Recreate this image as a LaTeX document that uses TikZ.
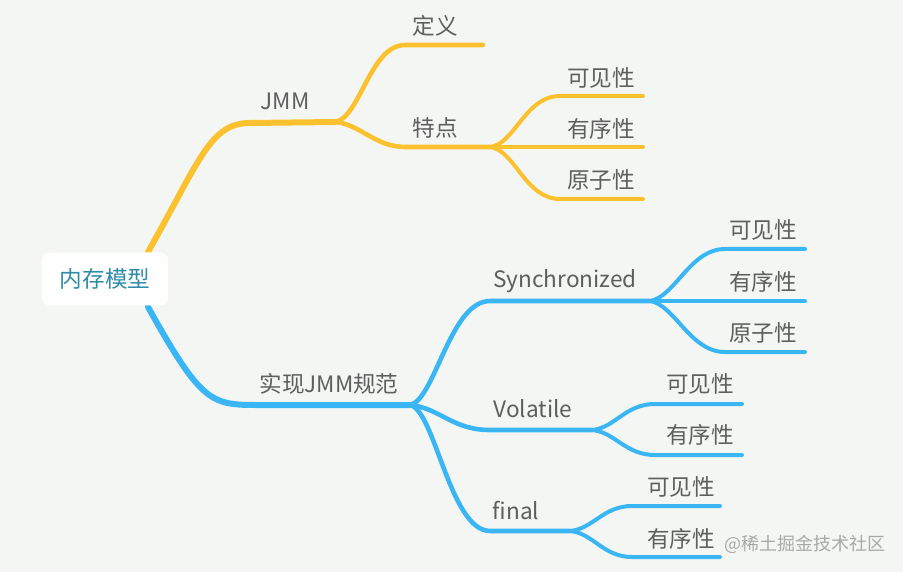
\documentclass[tikz,border=0pt]{standalone}
\usepackage{fontspec}
\newfontfamily\cjk{Noto Sans CJK SC}
\definecolor{bgc}{HTML}{F4F6F4}
\definecolor{ylw}{HTML}{FCC12E}
\definecolor{blu}{HTML}{3AB6F4}
\definecolor{txt}{HTML}{5E5E5E}
\definecolor{roottxt}{HTML}{2E8CA8}
\definecolor{wm}{HTML}{A8A8A8}
\tikzset{
  lbl/.style={font=\cjk\fontsize{22.6}{22.6}\selectfont, text=txt, inner sep=0pt, anchor=center},
  lvA/.style={line width=6pt, line cap=round},
  lvB/.style={line width=4.6pt, line cap=round},
  lvC/.style={line width=4pt, line cap=round},
}
\begin{document}
\begin{tikzpicture}[x=1pt,y=-1pt]
\fill[bgc] (0,0) rectangle (903,572);
\useasboundingbox (0,0) rectangle (903,572);

% coordinates
\coordinate (rt) at (148,252);
\coordinate (rb) at (148,307);
\coordinate (jmmS) at (250,123);
\coordinate (jmm) at (335,122);
\coordinate (dyS) at (405,45);
\coordinate (dyE) at (483,45);
\coordinate (tdS) at (405,147);
\coordinate (td) at (490,147);
\coordinate (y1S) at (560,96);
\coordinate (y1E) at (643,96);
\coordinate (y2E) at (643,147);
\coordinate (y3S) at (560,199);
\coordinate (y3E) at (643,199);

\coordinate (impS) at (255,405);
\coordinate (imp) at (410,405);
\coordinate (syS) at (490,301);
\coordinate (sy) at (650,301);
\coordinate (s1S) at (725,249);
\coordinate (s1E) at (805,249);
\coordinate (s2E) at (805,301);
\coordinate (s3S) at (725,352);
\coordinate (s3E) at (805,352);
\coordinate (voS) at (490,430);
\coordinate (vo) at (592,430);
\coordinate (v1S) at (655,404);
\coordinate (v1E) at (742,404);
\coordinate (v2S) at (655,455);
\coordinate (v2E) at (742,455);
\coordinate (fiS) at (490,531);
\coordinate (fi) at (570,531);
\coordinate (f1S) at (632,506);
\coordinate (f1E) at (720,506);
\coordinate (f2S) at (632,557);
\coordinate (f2E) at (720,557);

% yellow branch
\draw[ylw, lvA] (rt) .. controls (200,160) and (210,123) .. (jmmS) -- (jmm);
\draw[ylw, lvB] (jmm) .. controls (360,118) and (370,45) .. (dyS) -- (dyE);
\draw[ylw, lvB] (jmm) .. controls (360,124) and (375,147) .. (tdS) -- (td);
\draw[ylw, lvC] (td) .. controls (515,144) and (525,96) .. (y1S) -- (y1E);
\draw[ylw, lvC] (td) -- (y2E);
\draw[ylw, lvC] (td) .. controls (515,150) and (525,199) .. (y3S) -- (y3E);

% blue branch
\draw[blu, lvA] (rb) .. controls (200,400) and (210,405) .. (impS) -- (imp);
\draw[blu, lvB] (imp) .. controls (435,400) and (450,301) .. (syS) -- (sy);
\draw[blu, lvB] (imp) .. controls (440,408) and (452,430) .. (voS) -- (vo);
\draw[blu, lvB] (imp) .. controls (435,410) and (450,531) .. (fiS) -- (fi);
\draw[blu, lvC] (sy) .. controls (675,297) and (690,249) .. (s1S) -- (s1E);
\draw[blu, lvC] (sy) -- (s2E);
\draw[blu, lvC] (sy) .. controls (675,305) and (690,352) .. (s3S) -- (s3E);
\draw[blu, lvC] (vo) .. controls (615,428) and (625,404) .. (v1S) -- (v1E);
\draw[blu, lvC] (vo) .. controls (615,432) and (625,455) .. (v2S) -- (v2E);
\draw[blu, lvC] (fi) .. controls (593,529) and (603,506) .. (f1S) -- (f1E);
\draw[blu, lvC] (fi) .. controls (593,533) and (603,557) .. (f2S) -- (f2E);

% root
\node[fill=white, rounded corners=8pt, minimum width=126pt, minimum height=53pt, inner sep=0pt,
      font=\cjk\fontsize{22.6}{22.6}\selectfont, text=roottxt] (root) at (105,279) {内存模型};

% labels
\node[lbl] (lJMM) at (285,101) {JMM};
\node[lbl] (lDY) at (435,26) {定义};
\node[lbl] (lTD) at (435,128) {特点};
\node[lbl] (lY1) at (601,78) {可见性};
\node[lbl] (lY2) at (601,129) {有序性};
\node[lbl] (lY3) at (601,180) {原子性};
\node[lbl] (lIMP) at (329,384) {实现JMM规范};
\node[lbl] (lSY) at (565,281) {Synchronized};
\node[lbl] (lS1) at (763,230) {可见性};
\node[lbl] (lS2) at (763,282) {有序性};
\node[lbl] (lS3) at (763,333) {原子性};
\node[lbl] (lVO) at (533,409) {Volatile};
\node[lbl] (lV1) at (700,384) {可见性};
\node[lbl] (lV2) at (700,435) {有序性};
\node[lbl] (lFI) at (516,511) {final};
\node[lbl] (lF1) at (681,487) {可见性};
\node[lbl] (lF2) at (681,539) {有序性};
\node[font=\cjk\fontsize{18}{18}\selectfont, text=wm, inner sep=0pt] (wmark) at (805,544) {@稀土掘金技术社区};
\end{tikzpicture}
\end{document}
